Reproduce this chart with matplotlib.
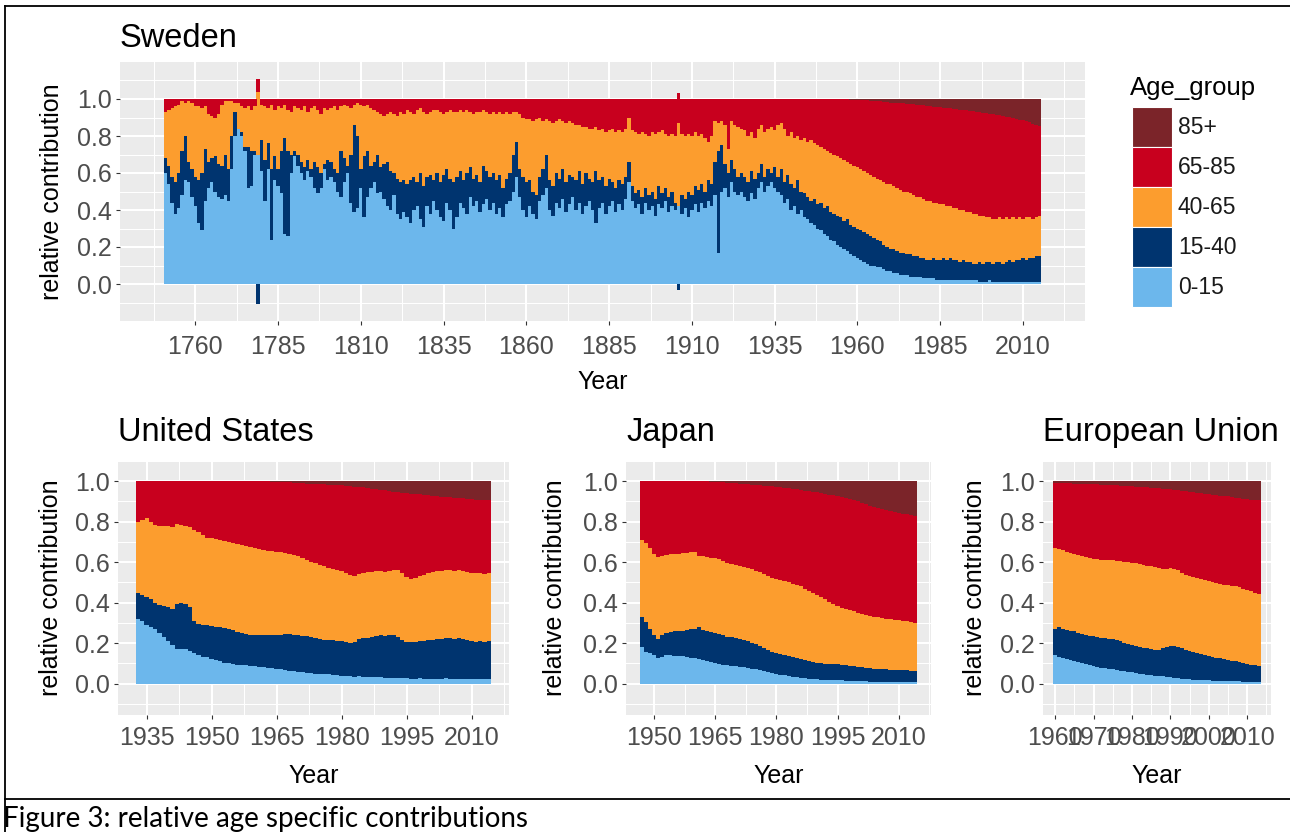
import numpy as np
import matplotlib
matplotlib.use("Agg")
import matplotlib.pyplot as plt
from matplotlib.patches import Rectangle
from matplotlib.lines import Line2D

plt.rcParams['font.family'] = ['Liberation Sans', 'DejaVu Sans']

# ---- data: cumulative relative contribution up to the upper age of each group ----
age_groups = ['85+', '65-85', '40-65', '15-40', '0-15']
group_colors = {'85+': '#7B2429', '65-85': '#C8001E', '40-65': '#FC9D2E',
                '15-40': '#00346F', '0-15': '#6CB7EC'}

# Sweden 1751-2015
sw_years = list(range(1751, 2016))
sw_upto15 = [
    0.60, 0.54, 0.44, 0.38, 0.41, 0.48, 0.56, 0.55, 0.47, 0.42,
    0.33, 0.29, 0.45, 0.52, 0.55, 0.50, 0.47, 0.46, 0.48, 0.45,
    0.62, 0.80, 0.84, 0.80, 0.72, 0.52, 0.53, 0.70, 0.70, 0.61,
    0.45, 0.62, 0.24, 0.56, 0.53, 0.49, 0.27, 0.26, 0.60, 0.69,
    0.64, 0.60, 0.56, 0.61, 0.58, 0.52, 0.49, 0.52, 0.62, 0.56,
    0.58, 0.55, 0.50, 0.47, 0.55, 0.60, 0.44, 0.39, 0.41, 0.52,
    0.36, 0.47, 0.52, 0.55, 0.49, 0.50, 0.46, 0.42, 0.40, 0.48,
    0.38, 0.35, 0.39, 0.36, 0.33, 0.40, 0.42, 0.35, 0.31, 0.42,
    0.38, 0.45, 0.40, 0.36, 0.34, 0.44, 0.40, 0.30, 0.36, 0.44,
    0.41, 0.38, 0.47, 0.42, 0.45, 0.39, 0.43, 0.46, 0.40, 0.44,
    0.38, 0.41, 0.36, 0.43, 0.45, 0.50, 0.58, 0.47, 0.40, 0.36,
    0.42, 0.38, 0.35, 0.45, 0.48, 0.52, 0.40, 0.37, 0.44, 0.41,
    0.46, 0.39, 0.43, 0.47, 0.40, 0.44, 0.38, 0.42, 0.45, 0.40,
    0.33, 0.41, 0.44, 0.38, 0.42, 0.45, 0.39, 0.43, 0.40, 0.46,
    0.55, 0.45, 0.41, 0.43, 0.38, 0.44, 0.40, 0.42, 0.37, 0.43,
    0.41, 0.45, 0.39, 0.42, 0.40, 0.42, 0.38, 0.41, 0.36, 0.40,
    0.43, 0.39, 0.44, 0.41, 0.45, 0.42, 0.48, 0.17, 0.50, 0.52,
    0.47, 0.55, 0.50, 0.48, 0.50, 0.47, 0.45, 0.49, 0.46, 0.52,
    0.55, 0.50, 0.53, 0.55, 0.52, 0.50, 0.48, 0.44, 0.46, 0.40,
    0.42, 0.38, 0.40, 0.36, 0.35, 0.33, 0.32, 0.30, 0.29, 0.27,
    0.26, 0.24, 0.23, 0.21, 0.20, 0.19, 0.18, 0.16, 0.15, 0.14,
    0.13, 0.12, 0.11, 0.10, 0.10, 0.09, 0.09, 0.08, 0.07, 0.07,
    0.06, 0.06, 0.05, 0.05, 0.05, 0.04, 0.04, 0.04, 0.04, 0.03,
    0.03, 0.03, 0.03, 0.02, 0.02, 0.02, 0.02, 0.02, 0.02, 0.02,
    0.02, 0.02, 0.02, 0.02, 0.02, 0.02, 0.01, 0.01, 0.01, 0.02,
    0.01, 0.01, 0.01, 0.01, 0.01, 0.01, 0.01, 0.01, 0.01, 0.01,
    0.01, 0.01, 0.01, 0.01, 0.01,
]
sw_upto40 = [
    0.68, 0.64, 0.58, 0.55, 0.60, 0.72, 0.80, 0.66, 0.62, 0.58,
    0.56, 0.60, 0.73, 0.66, 0.68, 0.69, 0.65, 0.64, 0.70, 0.62,
    0.80, 0.93, 0.84, 0.82, 0.74, 0.74, 0.72, 0.72, 0.59, 0.78,
    0.67, 0.76, 0.62, 0.69, 0.62, 0.72, 0.79, 0.72, 0.70, 0.72,
    0.70, 0.66, 0.63, 0.67, 0.62, 0.66, 0.63, 0.60, 0.65, 0.67,
    0.66, 0.62, 0.60, 0.72, 0.68, 0.64, 0.70, 0.86, 0.80, 0.62,
    0.69, 0.72, 0.64, 0.66, 0.70, 0.63, 0.65, 0.66, 0.61, 0.60,
    0.57, 0.55, 0.56, 0.54, 0.56, 0.58, 0.55, 0.60, 0.53, 0.58,
    0.59, 0.56, 0.60, 0.55, 0.59, 0.62, 0.57, 0.55, 0.58, 0.61,
    0.56, 0.60, 0.63, 0.57, 0.59, 0.55, 0.64, 0.61, 0.58, 0.60,
    0.56, 0.59, 0.52, 0.57, 0.60, 0.70, 0.77, 0.62, 0.58, 0.55,
    0.56, 0.50, 0.48, 0.58, 0.62, 0.70, 0.56, 0.53, 0.60, 0.57,
    0.62, 0.55, 0.59, 0.58, 0.56, 0.61, 0.54, 0.60, 0.57, 0.55,
    0.61, 0.56, 0.58, 0.53, 0.57, 0.55, 0.52, 0.56, 0.54, 0.58,
    0.66, 0.53, 0.49, 0.51, 0.47, 0.52, 0.48, 0.50, 0.46, 0.53,
    0.49, 0.52, 0.47, 0.50, 0.44, 0.39, 0.48, 0.46, 0.50, 0.48,
    0.53, 0.51, 0.54, 0.50, 0.56, 0.54, 0.66, 0.72, 0.75, 0.65,
    0.60, 0.67, 0.62, 0.58, 0.60, 0.58, 0.55, 0.61, 0.57, 0.60,
    0.65, 0.58, 0.62, 0.60, 0.63, 0.58, 0.62, 0.55, 0.59, 0.54,
    0.52, 0.56, 0.50, 0.49, 0.47, 0.45, 0.46, 0.43, 0.44, 0.41,
    0.42, 0.39, 0.38, 0.37, 0.36, 0.34, 0.35, 0.32, 0.31, 0.30,
    0.29, 0.28, 0.27, 0.26, 0.25, 0.24, 0.23, 0.21, 0.20, 0.19,
    0.19, 0.18, 0.17, 0.17, 0.16, 0.16, 0.15, 0.15, 0.14, 0.14,
    0.13, 0.13, 0.14, 0.13, 0.13, 0.14, 0.13, 0.14, 0.13, 0.13,
    0.12, 0.13, 0.12, 0.12, 0.11, 0.11, 0.12, 0.11, 0.12, 0.12,
    0.11, 0.12, 0.12, 0.11, 0.12, 0.13, 0.12, 0.13, 0.13, 0.14,
    0.13, 0.14, 0.14, 0.15, 0.15,
]
sw_upto65 = [
    0.93, 0.94, 0.95, 0.96, 0.97, 0.99, 0.98, 0.99, 0.98, 0.96,
    0.96, 0.95, 0.96, 0.92, 0.91, 0.90, 0.92, 0.97, 0.99, 0.99,
    0.99, 0.98, 0.98, 0.96, 0.95, 0.96, 0.94, 0.96, 0.93, 0.97,
    0.96, 0.95, 0.97, 0.94, 0.96, 0.95, 0.97, 0.94, 0.93, 0.96,
    0.95, 0.94, 0.96, 0.93, 0.95, 0.96, 0.94, 0.92, 0.95, 0.94,
    0.95, 0.96, 0.94, 0.96, 0.97, 0.96, 0.95, 0.97, 0.98, 0.97,
    0.96, 0.97, 0.95, 0.94, 0.93, 0.92, 0.91, 0.92, 0.93, 0.92,
    0.91, 0.93, 0.92, 0.94, 0.93, 0.92, 0.94, 0.95, 0.93, 0.92,
    0.93, 0.94, 0.94, 0.93, 0.92, 0.93, 0.94, 0.93, 0.93, 0.94,
    0.93, 0.94, 0.93, 0.92, 0.93, 0.93, 0.94, 0.93, 0.92, 0.93,
    0.92, 0.93, 0.92, 0.93, 0.92, 0.93, 0.93, 0.92, 0.90, 0.89,
    0.89, 0.88, 0.89, 0.90, 0.88, 0.89, 0.88, 0.87, 0.88, 0.89,
    0.88, 0.87, 0.88, 0.87, 0.86, 0.86, 0.85, 0.85, 0.84, 0.84,
    0.85, 0.83, 0.84, 0.82, 0.83, 0.84, 0.82, 0.83, 0.82, 0.84,
    0.90, 0.83, 0.82, 0.81, 0.82, 0.81, 0.80, 0.82, 0.81, 0.82,
    0.83, 0.81, 0.80, 0.81, 0.80, 0.84, 0.81, 0.80, 0.81, 0.80,
    0.82, 0.80, 0.81, 0.79, 0.77, 0.80, 0.88, 0.87, 0.88, 0.86,
    0.73, 0.88, 0.86, 0.85, 0.84, 0.83, 0.80, 0.82, 0.79, 0.84,
    0.86, 0.82, 0.84, 0.85, 0.83, 0.86, 0.87, 0.84, 0.80, 0.82,
    0.79, 0.80, 0.78, 0.79, 0.77, 0.78, 0.76, 0.75, 0.74, 0.73,
    0.72, 0.71, 0.70, 0.69, 0.68, 0.67, 0.66, 0.65, 0.64, 0.63,
    0.62, 0.61, 0.60, 0.59, 0.58, 0.57, 0.56, 0.55, 0.54, 0.54,
    0.53, 0.52, 0.51, 0.50, 0.50, 0.49, 0.48, 0.47, 0.47, 0.46,
    0.45, 0.45, 0.44, 0.44, 0.43, 0.43, 0.42, 0.42, 0.41, 0.41,
    0.40, 0.40, 0.39, 0.39, 0.38, 0.38, 0.37, 0.37, 0.36, 0.36,
    0.35, 0.35, 0.36, 0.35, 0.36, 0.35, 0.36, 0.35, 0.36, 0.35,
    0.36, 0.36, 0.35, 0.36, 0.37,
]
sw_upto85 = [
    1.0, 1.0, 1.0, 1.0, 1.0, 1.0, 1.0, 1.0, 1.0, 1.0,
    1.0, 1.0, 1.0, 1.0, 1.0, 1.0, 1.0, 1.0, 1.0, 1.0,
    1.0, 1.0, 1.0, 1.0, 1.0, 1.0, 1.0, 1.0, 1.0, 1.0,
    1.0, 1.0, 1.0, 1.0, 1.0, 1.0, 1.0, 1.0, 1.0, 1.0,
    1.0, 1.0, 1.0, 1.0, 1.0, 1.0, 1.0, 1.0, 1.0, 1.0,
    1.0, 1.0, 1.0, 1.0, 1.0, 1.0, 1.0, 1.0, 1.0, 1.0,
    1.0, 1.0, 1.0, 1.0, 1.0, 1.0, 1.0, 1.0, 1.0, 1.0,
    1.0, 1.0, 1.0, 1.0, 1.0, 1.0, 1.0, 1.0, 1.0, 1.0,
    1.0, 1.0, 1.0, 1.0, 1.0, 1.0, 1.0, 1.0, 1.0, 1.0,
    1.0, 1.0, 1.0, 1.0, 1.0, 1.0, 1.0, 1.0, 1.0, 1.0,
    1.0, 1.0, 1.0, 1.0, 1.0, 1.0, 1.0, 1.0, 1.0, 1.0,
    1.0, 1.0, 1.0, 1.0, 1.0, 1.0, 1.0, 1.0, 1.0, 1.0,
    1.0, 1.0, 1.0, 1.0, 1.0, 1.0, 1.0, 1.0, 1.0, 1.0,
    1.0, 1.0, 1.0, 1.0, 1.0, 1.0, 1.0, 1.0, 1.0, 1.0,
    1.0, 1.0, 1.0, 1.0, 1.0, 1.0, 1.0, 1.0, 1.0, 1.0,
    1.0, 1.0, 1.0, 1.0, 1.0, 1.0, 1.0, 1.0, 1.0, 1.0,
    1.0, 1.0, 1.0, 1.0, 1.0, 1.0, 1.0, 1.0, 1.0, 1.0,
    1.0, 1.0, 1.0, 1.0, 1.0, 1.0, 1.0, 1.0, 1.0, 1.0,
    1.0, 1.0, 1.0, 1.0, 1.0, 1.0, 1.0, 1.0, 1.0, 1.0,
    1.0, 1.0, 1.0, 1.0, 1.0, 1.0, 1.0, 1.0, 1.0, 1.0,
    1.0, 1.0, 1.0, 1.0, 1.0, 0.999, 0.998, 0.997, 0.996, 0.995,
    0.994, 0.993, 0.992, 0.991, 0.990, 0.989, 0.987, 0.985, 0.983, 0.980,
    0.979, 0.978, 0.977, 0.976, 0.975, 0.973, 0.971, 0.969, 0.967, 0.965,
    0.963, 0.961, 0.959, 0.957, 0.955, 0.953, 0.951, 0.949, 0.947, 0.945,
    0.943, 0.941, 0.939, 0.937, 0.935, 0.932, 0.929, 0.926, 0.923, 0.920,
    0.917, 0.914, 0.911, 0.908, 0.905, 0.901, 0.897, 0.893, 0.889, 0.885,
    0.879, 0.873, 0.867, 0.861, 0.855,
]

# United States 1933-2014
us_years = list(range(1933, 2015))
us_upto15 = [
    0.32, 0.31, 0.29, 0.28, 0.27, 0.25, 0.23,
    0.21, 0.19, 0.17, 0.17, 0.17, 0.16, 0.15, 0.14, 0.13, 0.13,
    0.12, 0.115, 0.11, 0.10, 0.10, 0.095, 0.093, 0.092, 0.09, 0.088,
    0.087, 0.084, 0.08, 0.078, 0.075, 0.072, 0.07, 0.067, 0.064, 0.06,
    0.057, 0.055, 0.053, 0.051, 0.05, 0.05, 0.048, 0.046, 0.044, 0.042,
    0.04, 0.038, 0.036, 0.035, 0.036, 0.035, 0.034, 0.033, 0.032, 0.031,
    0.03, 0.03, 0.029, 0.028, 0.027, 0.026, 0.025, 0.025, 0.026, 0.025,
    0.025, 0.024, 0.025, 0.024, 0.026, 0.025, 0.024, 0.023, 0.024, 0.023,
    0.023, 0.022, 0.023, 0.022, 0.022,
]
us_upto40 = [
    0.45, 0.44, 0.43, 0.42, 0.40, 0.39, 0.385,
    0.38, 0.37, 0.395, 0.40, 0.395, 0.38, 0.31, 0.295, 0.29, 0.29,
    0.285, 0.28, 0.28, 0.275, 0.27, 0.265, 0.255, 0.25, 0.245, 0.24,
    0.24, 0.24, 0.24, 0.24, 0.24, 0.24, 0.24, 0.245, 0.245, 0.24,
    0.24, 0.235, 0.235, 0.23, 0.225, 0.22, 0.215, 0.215, 0.215, 0.21,
    0.21, 0.205, 0.20, 0.205, 0.22, 0.225, 0.225, 0.23, 0.235, 0.24,
    0.235, 0.24, 0.24, 0.23, 0.215, 0.205, 0.205, 0.205, 0.21, 0.21,
    0.215, 0.215, 0.22, 0.22, 0.225, 0.225, 0.22, 0.225, 0.22, 0.215,
    0.21, 0.205, 0.21, 0.205, 0.21,
]
us_upto65 = [
    0.80, 0.81, 0.82, 0.80, 0.785, 0.78, 0.78,
    0.78, 0.775, 0.79, 0.785, 0.78, 0.775, 0.76, 0.75, 0.735, 0.72,
    0.72, 0.715, 0.71, 0.705, 0.70, 0.695, 0.69, 0.685, 0.68, 0.675,
    0.67, 0.665, 0.66, 0.655, 0.655, 0.65, 0.65, 0.645, 0.64, 0.635,
    0.63, 0.62, 0.61, 0.60, 0.595, 0.585, 0.58, 0.57, 0.565, 0.56,
    0.555, 0.545, 0.535, 0.53, 0.54, 0.545, 0.55, 0.55, 0.555, 0.555,
    0.55, 0.555, 0.56, 0.56, 0.545, 0.525, 0.515, 0.52, 0.53, 0.535,
    0.545, 0.55, 0.555, 0.555, 0.56, 0.56, 0.555, 0.56, 0.555, 0.55,
    0.545, 0.545, 0.545, 0.54, 0.545,
]
us_upto85 = [
    1.0, 1.0, 1.0, 1.0, 1.0, 1.0, 1.0,
    1.0, 1.0, 1.0, 1.0, 1.0, 1.0, 1.0, 1.0, 1.0, 1.0,
    1.0, 1.0, 1.0, 1.0, 1.0, 1.0, 1.0, 1.0, 1.0, 1.0,
    1.0, 1.0, 1.0, 0.999, 0.998, 0.997, 0.996, 0.995, 0.994, 0.992,
    0.990, 0.989, 0.988, 0.987, 0.986, 0.985, 0.984, 0.983, 0.982, 0.981,
    0.980, 0.978, 0.976, 0.974, 0.972, 0.970, 0.967, 0.964, 0.961, 0.958,
    0.955, 0.952, 0.949, 0.945, 0.943, 0.941, 0.939, 0.937, 0.935, 0.932,
    0.930, 0.928, 0.926, 0.924, 0.922, 0.920, 0.918, 0.916, 0.915, 0.913,
    0.911, 0.909, 0.907, 0.906, 0.905,
]

# Japan 1947-2014
jp_years = list(range(1947, 2015))
jp_upto15 = [
    0.18, 0.155, 0.15,
    0.14, 0.125, 0.133, 0.14, 0.14, 0.138, 0.136, 0.135, 0.13, 0.128,
    0.125, 0.12, 0.115, 0.11, 0.105, 0.10, 0.096, 0.094, 0.09, 0.088,
    0.086, 0.082, 0.08, 0.077, 0.074, 0.07, 0.066, 0.062, 0.058, 0.053,
    0.047, 0.044, 0.042, 0.038, 0.035, 0.031, 0.029, 0.027, 0.025, 0.023,
    0.021, 0.02, 0.019, 0.018, 0.017, 0.016, 0.016, 0.015, 0.014, 0.013,
    0.012, 0.011, 0.011, 0.01, 0.01, 0.01, 0.009, 0.009, 0.009, 0.009,
    0.008, 0.008, 0.008, 0.008, 0.008,
]
jp_upto40 = [
    0.33, 0.305, 0.27,
    0.24, 0.22, 0.24, 0.25, 0.255, 0.26, 0.26, 0.262, 0.265, 0.268,
    0.27, 0.28, 0.265, 0.26, 0.255, 0.25, 0.245, 0.238, 0.232, 0.228,
    0.225, 0.22, 0.215, 0.21, 0.20, 0.195, 0.185, 0.175, 0.165, 0.155,
    0.15, 0.145, 0.14, 0.135, 0.13, 0.125, 0.12, 0.115, 0.11, 0.105,
    0.10, 0.10, 0.098, 0.097, 0.096, 0.095, 0.092, 0.09, 0.088, 0.085,
    0.082, 0.08, 0.078, 0.076, 0.074, 0.073, 0.071, 0.07, 0.069, 0.068,
    0.067, 0.066, 0.065, 0.064, 0.062,
]
jp_upto65 = [
    0.71, 0.695, 0.67,
    0.64, 0.625, 0.63, 0.635, 0.64, 0.64, 0.64, 0.645, 0.645, 0.65,
    0.65, 0.63, 0.63, 0.625, 0.622, 0.62, 0.615, 0.605, 0.595, 0.59,
    0.585, 0.58, 0.575, 0.57, 0.565, 0.555, 0.55, 0.54, 0.53, 0.52,
    0.515, 0.51, 0.505, 0.50, 0.49, 0.485, 0.48, 0.47, 0.46, 0.45,
    0.44, 0.43, 0.42, 0.405, 0.395, 0.385, 0.375, 0.37, 0.365, 0.36,
    0.35, 0.345, 0.34, 0.335, 0.33, 0.33, 0.325, 0.32, 0.318, 0.315,
    0.312, 0.31, 0.307, 0.305, 0.302,
]
jp_upto85 = [
    1.0, 1.0, 1.0,
    1.0, 1.0, 1.0, 1.0, 1.0, 1.0, 1.0, 1.0, 1.0, 1.0,
    1.0, 1.0, 1.0, 0.999, 0.998, 0.997, 0.996, 0.995, 0.993, 0.991,
    0.989, 0.988, 0.987, 0.985, 0.983, 0.982, 0.980, 0.978, 0.976, 0.975,
    0.973, 0.971, 0.968, 0.966, 0.963, 0.960, 0.957, 0.954, 0.951, 0.948,
    0.945, 0.942, 0.938, 0.934, 0.931, 0.927, 0.922, 0.917, 0.911, 0.906,
    0.900, 0.893, 0.887, 0.880, 0.874, 0.867, 0.862, 0.857, 0.852, 0.848,
    0.844, 0.840, 0.836, 0.832, 0.828,
]

# European Union 1960-2013
eu_years = list(range(1960, 2014))
eu_upto15 = [
    0.14, 0.133, 0.128, 0.122, 0.116, 0.11, 0.105, 0.10, 0.095, 0.09,
    0.086, 0.082, 0.079, 0.076, 0.073, 0.07, 0.067, 0.064, 0.061, 0.058,
    0.055, 0.052, 0.05, 0.048, 0.045, 0.042, 0.04, 0.038, 0.036, 0.034,
    0.031, 0.029, 0.027, 0.025, 0.023, 0.021, 0.02, 0.019, 0.018, 0.017,
    0.016, 0.015, 0.014, 0.014, 0.013, 0.012, 0.012, 0.011, 0.011, 0.01,
    0.01, 0.009, 0.009, 0.008,
]
eu_upto40 = [
    0.27, 0.28, 0.27, 0.265, 0.26, 0.258, 0.25, 0.245, 0.24, 0.237,
    0.234, 0.23, 0.227, 0.224, 0.222, 0.22, 0.215, 0.21, 0.203, 0.196,
    0.19, 0.185, 0.182, 0.178, 0.175, 0.172, 0.168, 0.167, 0.175, 0.18,
    0.187, 0.187, 0.183, 0.175, 0.168, 0.162, 0.156, 0.152, 0.148, 0.143,
    0.138, 0.133, 0.129, 0.125, 0.12, 0.117, 0.114, 0.11, 0.105, 0.10,
    0.097, 0.094, 0.09, 0.088,
]
eu_upto65 = [
    0.67, 0.665, 0.66, 0.65, 0.645, 0.64, 0.635, 0.63, 0.625, 0.62,
    0.617, 0.615, 0.613, 0.612, 0.61, 0.61, 0.607, 0.605, 0.602, 0.60,
    0.597, 0.594, 0.59, 0.586, 0.582, 0.58, 0.575, 0.57, 0.568, 0.567,
    0.573, 0.565, 0.56, 0.547, 0.535, 0.53, 0.525, 0.52, 0.515, 0.51,
    0.505, 0.50, 0.495, 0.49, 0.487, 0.485, 0.482, 0.48, 0.477, 0.47,
    0.463, 0.457, 0.45, 0.445,
]
eu_upto85 = [
    0.99, 0.99, 0.99, 0.989, 0.989, 0.988, 0.988, 0.987, 0.987, 0.986,
    0.985, 0.984, 0.983, 0.982, 0.981, 0.98, 0.979, 0.978, 0.977, 0.976,
    0.975, 0.974, 0.973, 0.971, 0.97, 0.968, 0.967, 0.965, 0.963, 0.962,
    0.96, 0.958, 0.955, 0.953, 0.95, 0.948, 0.945, 0.943, 0.94, 0.938,
    0.935, 0.933, 0.931, 0.929, 0.927, 0.925, 0.922, 0.919, 0.916, 0.913,
    0.91, 0.908, 0.906, 0.905,
]

W, H = 1290, 832
fig = plt.figure(figsize=(W / 100, H / 100), dpi=100)


def fx(px):
    return px / W


def fy(py):
    return 1 - py / H


def panel(left, top, right, bottom):
    return fig.add_axes([fx(left), fy(bottom), fx(right) - fx(left), (bottom - top) / H])


def draw_stack(ax, years, upto15, upto40, upto65, upto85, ylim, major, minor, xpad):
    n = len(years)
    for arr in (upto15, upto40, upto65, upto85):
        assert len(arr) == n
    cum = np.vstack([np.zeros(n), upto15, upto40, upto65, upto85, np.ones(n)])
    parts = np.round(np.diff(cum, axis=0), 6)
    pos_base = np.zeros(n)
    neg_base = np.zeros(n)
    # stacked like ggplot: positives upward, negatives downward from zero
    for part, grp in zip(parts, age_groups[::-1]):
        pos = np.clip(part, 0, None)
        neg = np.clip(part, None, 0)
        ax.bar(years, pos, width=1.05, bottom=pos_base, color=group_colors[grp],
               linewidth=0, antialiased=False)
        if (neg < 0).any():
            ax.bar(years, neg, width=1.05, bottom=neg_base, color=group_colors[grp],
                   linewidth=0, antialiased=False)
        pos_base = pos_base + pos
        neg_base = neg_base + neg
    span = (years[-1] + 0.5) - (years[0] - 0.5)
    ax.set_xlim(years[0] - 0.5 - 0.05 * span, years[-1] + 0.5 + 0.05 * span)
    ax.set_ylim(*ylim)
    ax.set_facecolor('#EBEBEB')
    for s in ax.spines.values():
        s.set_visible(False)
    ax.set_xticks(major)
    ax.set_xticks(minor, minor=True)
    yt = [0.0, 0.2, 0.4, 0.6, 0.8, 1.0]
    ax.set_yticks(yt)
    ax.set_yticklabels([f'{v:.1f}' for v in yt])
    ax.set_yticks([-0.1, 0.1, 0.3, 0.5, 0.7, 0.9, 1.1], minor=True)
    ax.set_axisbelow(True)
    ax.grid(which='major', color='white', linewidth=1.45)
    ax.grid(which='minor', color='white', linewidth=0.75)
    ax.tick_params(which='major', length=3.1, width=0.8, color='#333333',
                   labelsize=18, labelcolor='#4D4D4D')
    ax.tick_params(axis='x', pad=xpad)
    ax.tick_params(axis='y', pad=3)
    ax.tick_params(which='minor', length=0)


def axis_texts(title, left, top, right, bottom, title_base, year_base, ylab_x):
    fig.text(fx(left), fy(title_base), title, fontsize=23.5, color='black',
             ha='left', va='baseline')
    fig.text(fx((left + right) / 2), fy(year_base), 'Year', fontsize=18,
             color='black', ha='center', va='baseline')
    fig.text(fx(ylab_x), fy((top + bottom) / 2), 'relative contribution',
             fontsize=18, color='black', rotation=90, ha='center', va='center')


# Sweden
ax_sw = panel(120, 62, 1085, 321)
draw_stack(ax_sw, sw_years, sw_upto15, sw_upto40, sw_upto65, sw_upto85,
           (-0.2, 1.2), list(range(1760, 2011, 25)),
           [1747.5 + 25 * k for k in range(12)], 7)
axis_texts('Sweden', 120, 62, 1085, 321, 47, 389, 52)

# United States
ax_us = panel(118, 461, 509, 715)
draw_stack(ax_us, us_years, us_upto15, us_upto40, us_upto65, us_upto85,
           (-0.155, 1.055), list(range(1935, 2011, 15)),
           [1942.5 + 15 * k for k in range(6)], 4.5)
axis_texts('United States', 118, 461, 509, 715, 441, 783, 51)

# Japan
ax_jp = panel(626, 461, 931, 715)
draw_stack(ax_jp, jp_years, jp_upto15, jp_upto40, jp_upto65, jp_upto85,
           (-0.155, 1.055), list(range(1950, 2011, 15)),
           [1957.5 + 15 * k for k in range(5)], 4.5)
axis_texts('Japan', 626, 461, 931, 715, 441, 783, 555)

# European Union (tick labels overlap in the original too)
ax_eu = panel(1043, 461, 1271, 715)
draw_stack(ax_eu, eu_years, eu_upto15, eu_upto40, eu_upto65, eu_upto85,
           (-0.155, 1.055), list(range(1960, 2011, 10)),
           [1965 + 10 * k for k in range(6)], 4.5)
axis_texts('European Union', 1043, 461, 1271, 715, 441, 783, 975)

# legend
fig.text(fx(1130), fy(95), 'Age_group', fontsize=18.5, color='black',
         ha='left', va='baseline')
for i, grp in enumerate(age_groups):
    y0 = 107 + 40 * i
    fig.patches.append(Rectangle((fx(1132), fy(y0 + 40)), 40 / W, 40 / H,
                                 transform=fig.transFigure, facecolor=group_colors[grp],
                                 edgecolor='white', linewidth=0.8))
    fig.text(fx(1178), fy(y0 + 20), grp, fontsize=16.5, color='#1A1A1A',
             ha='left', va='center')

# document frame and caption
for (x0, y0, x1, y1) in [(5, 6, W, 6), (5, 6, 5, H), (5, 799, W, 799)]:
    fig.add_artist(Line2D([fx(x0), fx(x1)], [fy(y0), fy(y1)],
                          transform=fig.transFigure, color='black', linewidth=1.3))
fig.text(fx(3), fy(827), 'Figure 3: relative age specific contributions',
         fontsize=20, family=['Lato', 'DejaVu Sans'], color='black',
         ha='left', va='baseline')

fig.savefig('out.png', dpi=100)
